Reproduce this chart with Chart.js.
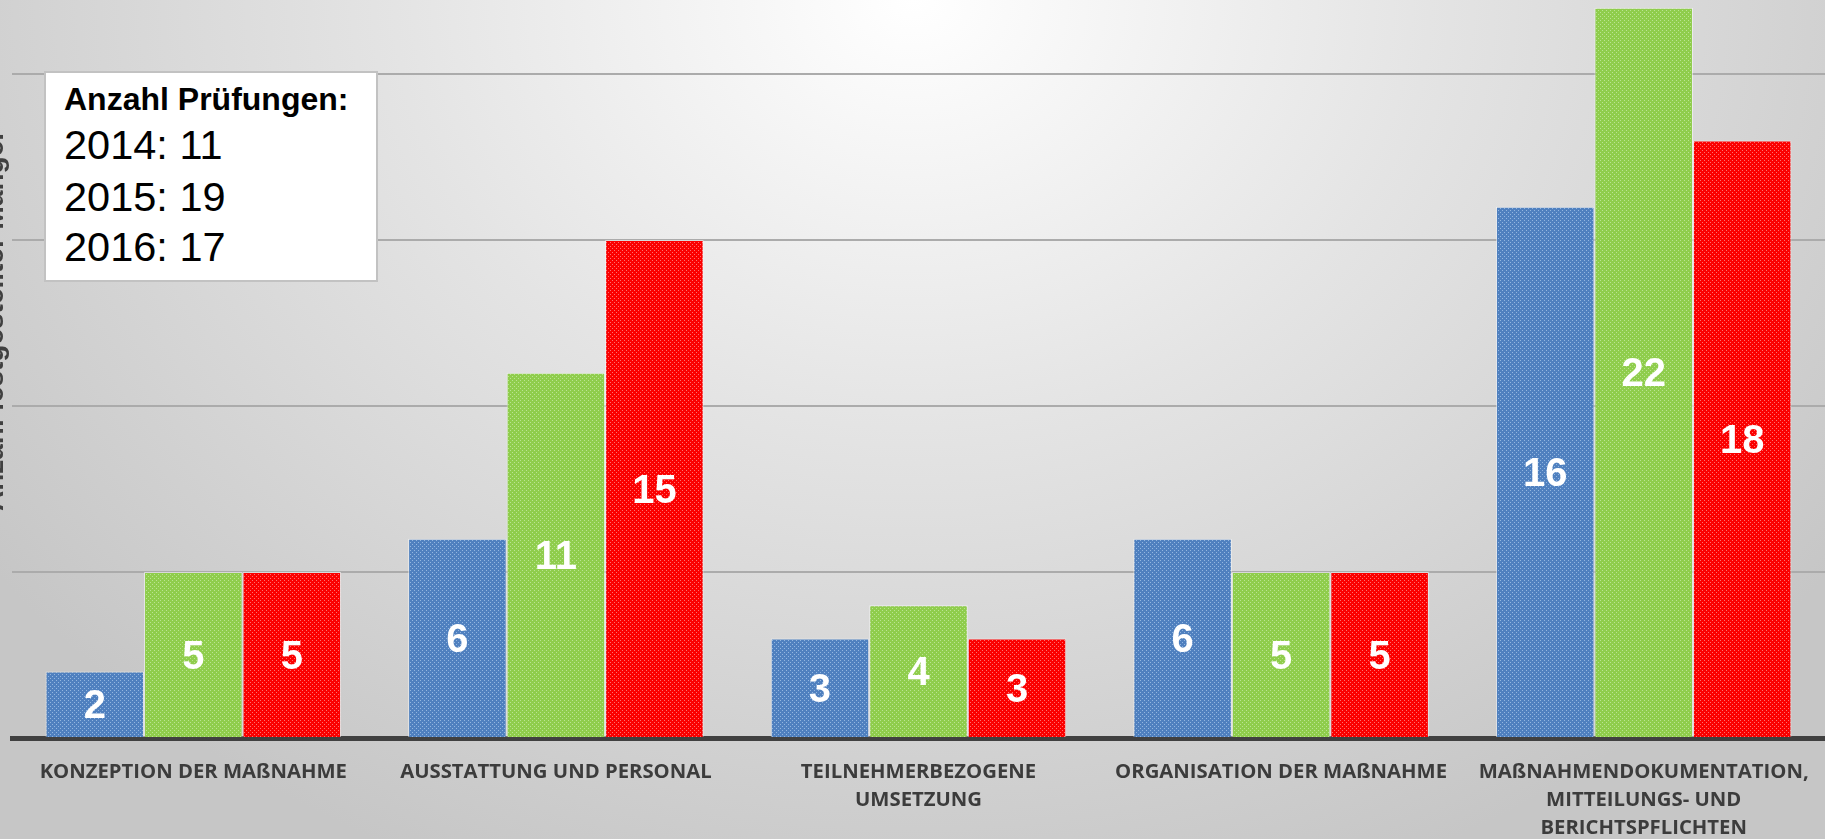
<!DOCTYPE html>
<html>
<head>
<meta charset="utf-8">
<script src="https://cdn.jsdelivr.net/npm/chart.js@4/dist/chart.umd.min.js"></script>
<style>
  html, body { margin: 0; padding: 0; }
  body {
    width: 1825px; height: 839px; overflow: hidden; position: relative;
    background: radial-gradient(ellipse 1150px 950px at 50% 0%, #ffffff 0%, #e4e4e4 45%, #c6c6c6 100%);
  }
  #c { position: absolute; left: 0; top: 0; }
  #box {
    position: absolute; left: 44px; top: 71px; width: 330px; height: 207px;
    background: #ffffff; border: 2px solid #c2c2c2;
    font-family: "Liberation Sans", Arial, sans-serif; color: #000;
  }
  #box .t { position: absolute; left: 18px; white-space: nowrap; }
  #box .h { font-weight: bold; font-size: 32px; line-height: 32px; }
  #box .r { font-size: 41.5px; line-height: 42px; }
</style>
</head>
<body>
<canvas id="c" width="1825" height="839"></canvas>
<div id="box"></div>
<script>
// ---- data ----
const categories = [
  'KONZEPTION DER MAßNAHME',
  'AUSSTATTUNG UND PERSONAL',
  ['TEILNEHMERBEZOGENE', 'UMSETZUNG'],
  'ORGANISATION DER MAßNAHME',
  ['MAßNAHMENDOKUMENTATION,', 'MITTEILUNGS- UND', 'BERICHTSPFLICHTEN']
];
const years = ['2014', '2015', '2016'];
const values2014 = [2, 6, 3, 6, 16];
const values2015 = [5, 11, 4, 5, 22];
const values2016 = [5, 15, 3, 5, 18];
const pruefTitle = 'Anzahl Prüfungen:';
const pruefCounts = [11, 19, 17];
const yTitle = 'Anzahl festgestellter Mängel';
const gridTicks = [0, 5, 10, 15, 20];

// ---- info box ----
const box = document.getElementById('box');
(function () {
  const h = document.createElement('div');
  h.className = 't h'; h.style.top = (110 - 27 - 73) + 'px'; h.textContent = pruefTitle;
  box.appendChild(h);
  const baselines = [160, 212, 262];
  years.forEach((y, i) => {
    const d = document.createElement('div');
    d.className = 't r';
    d.style.top = (baselines[i] - 36 - 73) + 'px';
    d.textContent = y + ': ' + pruefCounts[i];
    box.appendChild(d);
  });
})();

// ---- textured fills ----
function pattern(base, dot) {
  const c = document.createElement('canvas');
  c.width = 4; c.height = 4;
  const x = c.getContext('2d');
  x.fillStyle = base; x.fillRect(0, 0, 4, 4);
  x.fillStyle = dot;
  x.fillRect(0, 0, 1, 1); x.fillRect(2, 2, 1, 1);
  return x.createPattern(c, 'repeat');
}
const fills = [
  pattern('#4f80bf', 'rgba(170,200,235,0.75)'),
  pattern('#8fcd4c', 'rgba(200,235,170,0.75)'),
  pattern('#fb0000', 'rgba(255,150,150,0.75)')
];

const valueLabels = {
  id: 'valueLabels',
  afterDatasetsDraw(chart) {
    const ctx = chart.ctx;
    ctx.save();
    ctx.font = 'bold 40px "Liberation Sans", Arial, sans-serif';
    ctx.fillStyle = '#ffffff';
    ctx.textAlign = 'center';
    ctx.textBaseline = 'middle';
    chart.data.datasets.forEach((ds, di) => {
      chart.getDatasetMeta(di).data.forEach((el, i) => {
        ctx.fillText(String(ds.data[i]), el.x, (el.y + el.base) / 2 + 3);
      });
    });
    ctx.restore();
  }
};

const yTitlePlugin = {
  id: 'yTitlePlugin',
  afterDraw(chart) {
    const ctx = chart.ctx;
    ctx.save();
    ctx.translate(2.5, 322);
    ctx.rotate(-Math.PI / 2);
    ctx.font = 'bold 28px "Liberation Sans", Arial, sans-serif';
    ctx.fillStyle = '#404040';
    ctx.textAlign = 'center';
    ctx.textBaseline = 'alphabetic';
    ctx.fillText(yTitle, 0, 0);
    ctx.restore();
  }
};

new Chart(document.getElementById('c'), {
  type: 'bar',
  data: {
    labels: categories,
    datasets: [values2014, values2015, values2016].map((v, i) => ({
      label: years[i],
      data: v,
      backgroundColor: fills[i],
      borderColor: 'rgba(255,255,255,0.55)',
      borderWidth: 1,
      categoryPercentage: 0.815,
      barPercentage: 1.0
    }))
  },
  options: {
    responsive: false,
    animation: false,
    layout: { padding: { left: 0, right: 0, top: 0, bottom: 0 } },
    plugins: { legend: { display: false }, tooltip: { enabled: false } },
    scales: {
      x: {
        grid: { display: false, drawTicks: false },
        border: { display: true, color: '#404040', width: 5 },
        ticks: {
          color: '#3c3c3c',
          font: { family: '"Open Sans"', weight: 'bold', size: 20.3, lineHeight: 1.38 },
          padding: 20,
          maxRotation: 0,
          autoSkip: false
        },
        afterFit(scale) { scale.height = 101; scale.paddingLeft = 0; scale.paddingRight = 0; }
      },
      y: {
        min: 0,
        max: 22.23,
        grid: { color: '#ababab', lineWidth: 2, drawTicks: false },
        border: { display: false },
        ticks: { display: false, stepSize: 5 },
        afterBuildTicks(scale) { scale.ticks = gridTicks.map(v => ({ value: v })); },
        afterFit(scale) { scale.width = 12; }
      }
    }
  },
  plugins: [valueLabels, yTitlePlugin]
});
</script>
</body>
</html>
